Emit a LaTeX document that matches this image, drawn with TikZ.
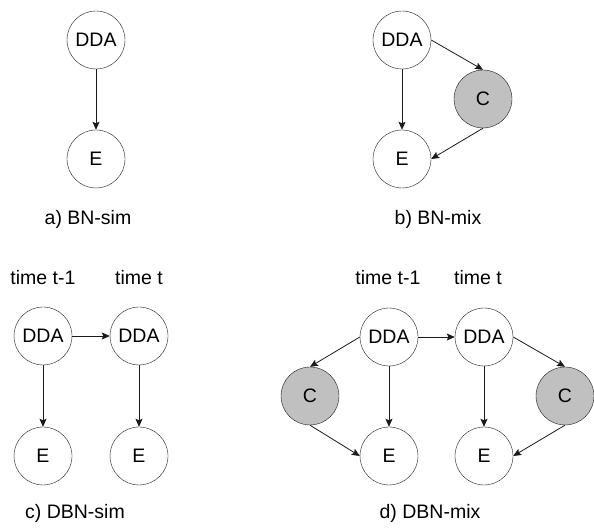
\documentclass[tikz,border=0pt]{standalone}
\usepackage{fontspec}
\setmainfont{Liberation Sans}
\usetikzlibrary{arrows.meta}
\definecolor{FigureGray}{HTML}{C0C0C0}
\definecolor{FigureLine}{HTML}{1A1A1A}
\begin{document}
\begin{tikzpicture}[x=1pt,y=1pt,>={Stealth[length=8pt,width=7pt,inset=1.5pt]},
  font=\fontsize{19.5}{22}\selectfont,
  var/.style={circle,draw=FigureLine,fill=white,minimum size=58pt,inner sep=0pt},
  cvar/.style={var,fill=FigureGray},
  link/.style={->,FigureLine,line width=0.8pt}]
  \path[use as bounding box] (0,0) rectangle (594,529);
  % a) BN-sim
  \node[var] (aD) at (96,489) {DDA};
  \node[var] (aE) at (96,370) {E};
  \node (aL) at (88,310) {a) BN-sim};
  \draw[link] (aD)--(aE);
  % b) BN-mix
  \node[var] (bD) at (402,489) {DDA};
  \node[cvar] (bC) at (483,430) {C};
  \node[var] (bE) at (402,370) {E};
  \node (bL) at (438,310) {b) BN-mix};
  \draw[link] (bD)--(bE);
  \draw[link] (bD.east)--(bC.north);
  \draw[link] (bC.south)--(bE.east);
  % c) DBN-sim
  \node (cT1) at (43,251) {time t-1};
  \node (cT2) at (139,251) {time t};
  \node[var] (cD1) at (43,193) {DDA};
  \node[var] (cD2) at (139,193) {DDA};
  \node[var] (cE1) at (43,73) {E};
  \node[var] (cE2) at (139,73) {E};
  \node (cL) at (75,16) {c) DBN-sim};
  \draw[link] (cD1)--(cD2);
  \draw[link] (cD1)--(cE1);
  \draw[link] (cD2)--(cE2);
  % d) DBN-mix
  \node (dT1) at (388,251) {time t-1};
  \node (dT2) at (478,251) {time t};
  \node[var] (dD1) at (389,192) {DDA};
  \node[var] (dD2) at (484,192) {DDA};
  \node[cvar] (dC1) at (310,133) {C};
  \node[cvar] (dC2) at (565,133) {C};
  \node[var] (dE1) at (389,73) {E};
  \node[var] (dE2) at (484,73) {E};
  \node (dL) at (430,16) {d) DBN-mix};
  \draw[link] (dD1)--(dD2);
  \draw[link] (dD1)--(dE1);
  \draw[link] (dD2)--(dE2);
  \draw[link] (dD1.west)--(dC1.north);
  \draw[link] (dC1.south)--(dE1.west);
  \draw[link] (dD2.east)--(dC2.north);
  \draw[link] (dC2.south)--(dE2.east);
\end{tikzpicture}
\end{document}
